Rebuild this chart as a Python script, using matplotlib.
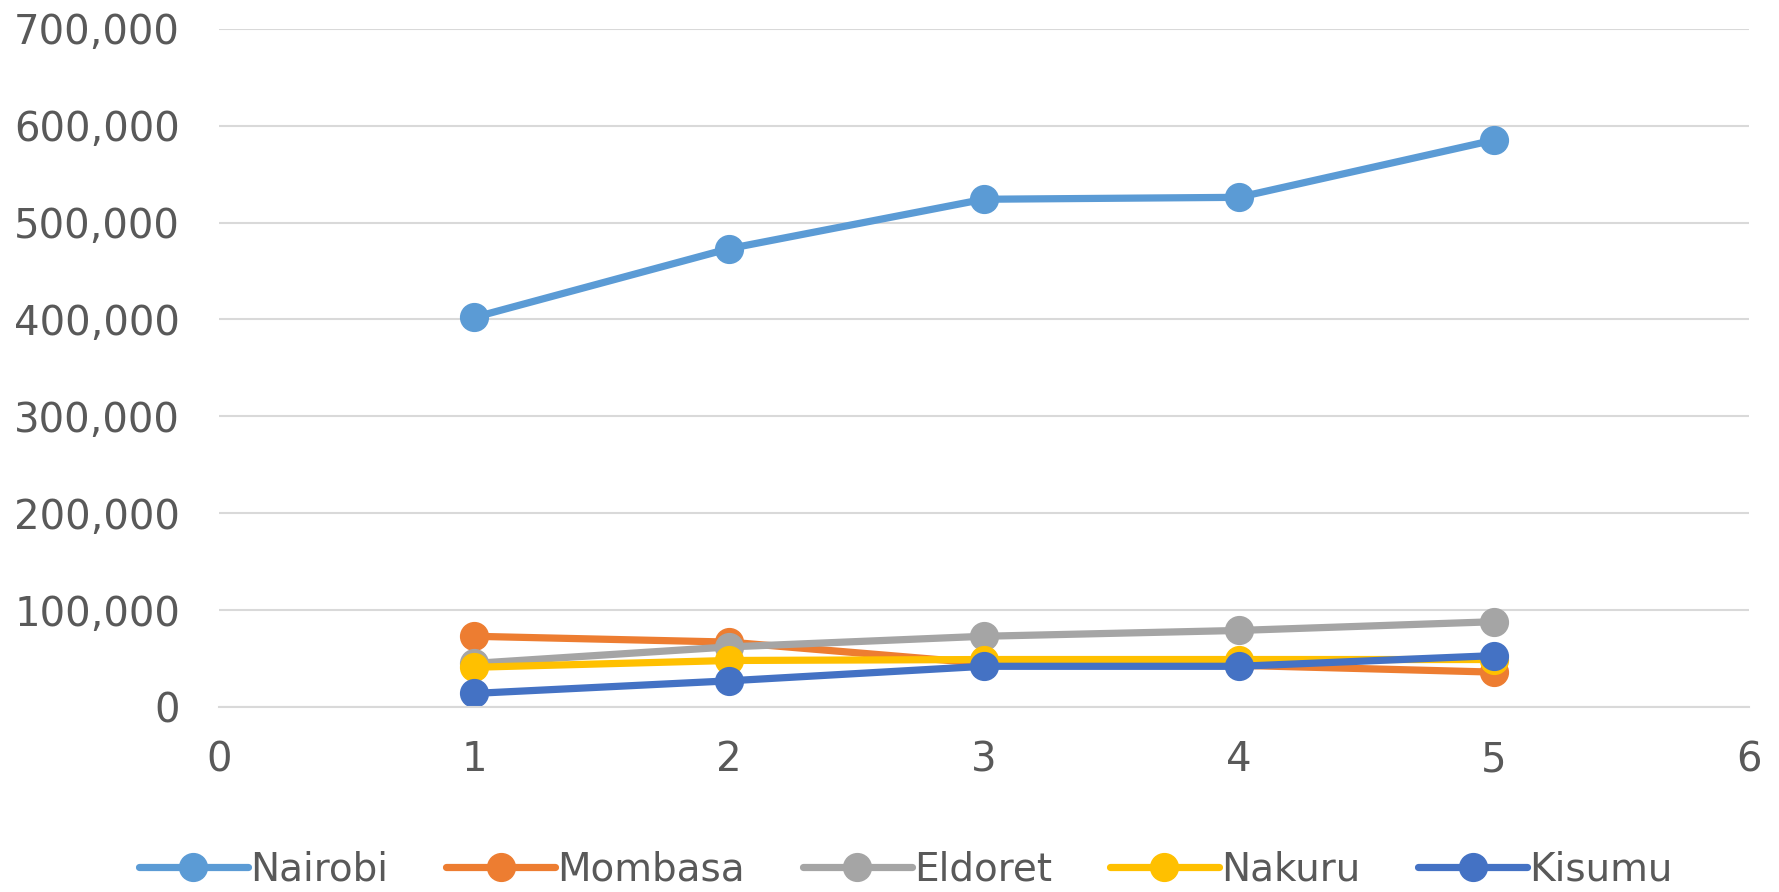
import matplotlib.pyplot as plt
from matplotlib.ticker import FuncFormatter

# --- Data ---
years = [1, 2, 3, 4, 5]
nairobi = [402000, 473000, 524000, 526000, 585000]
mombasa = [73000, 67000, 45000, 43000, 36000]
eldoret = [45000, 62000, 73000, 79000, 88000]
nakuru = [41000, 48000, 49000, 49000, 49000]
kisumu = [14000, 27000, 42000, 42000, 53000]

series = [
    ("Nairobi", nairobi, "#5b9bd5"),
    ("Mombasa", mombasa, "#ed7d31"),
    ("Eldoret", eldoret, "#a5a5a5"),
    ("Nakuru", nakuru, "#ffc000"),
    ("Kisumu", kisumu, "#4472c4"),
]

plt.rcParams['font.family'] = ['DejaVu Sans']

fig = plt.figure(figsize=(17.79, 8.92), dpi=100)
ax = fig.add_axes([0.1231, 0.2074, 0.8598, 0.7604])

for name, vals, c in series:
    ax.plot(years, vals, color=c, lw=5.2, marker="o", ms=20, label=name,
            solid_capstyle="round")

ax.set_xlim(0, 6)
ax.set_ylim(0, 700000)
ax.set_yticks(range(0, 700001, 100000))
ax.yaxis.set_major_formatter(FuncFormatter(lambda v, _: f"{int(v):,}"))
ax.grid(axis="y", color="#d9d9d9", lw=1.5)
ax.set_axisbelow(True)
for s in ["top", "right", "left"]:
    ax.spines[s].set_visible(False)
ax.spines["bottom"].set_color("#d9d9d9")
ax.spines["bottom"].set_linewidth(1.5)
ax.tick_params(length=0, labelsize=29, colors="#595959", pad=28)
ax.tick_params(axis="x", pad=24)

ax.legend(loc="center", bbox_to_anchor=(0.449, -0.24), ncol=5, frameon=False,
          fontsize=28, labelcolor="#595959", handlelength=2.8,
          handletextpad=0.05, columnspacing=1.5)

fig.savefig("out.png", dpi=100)
